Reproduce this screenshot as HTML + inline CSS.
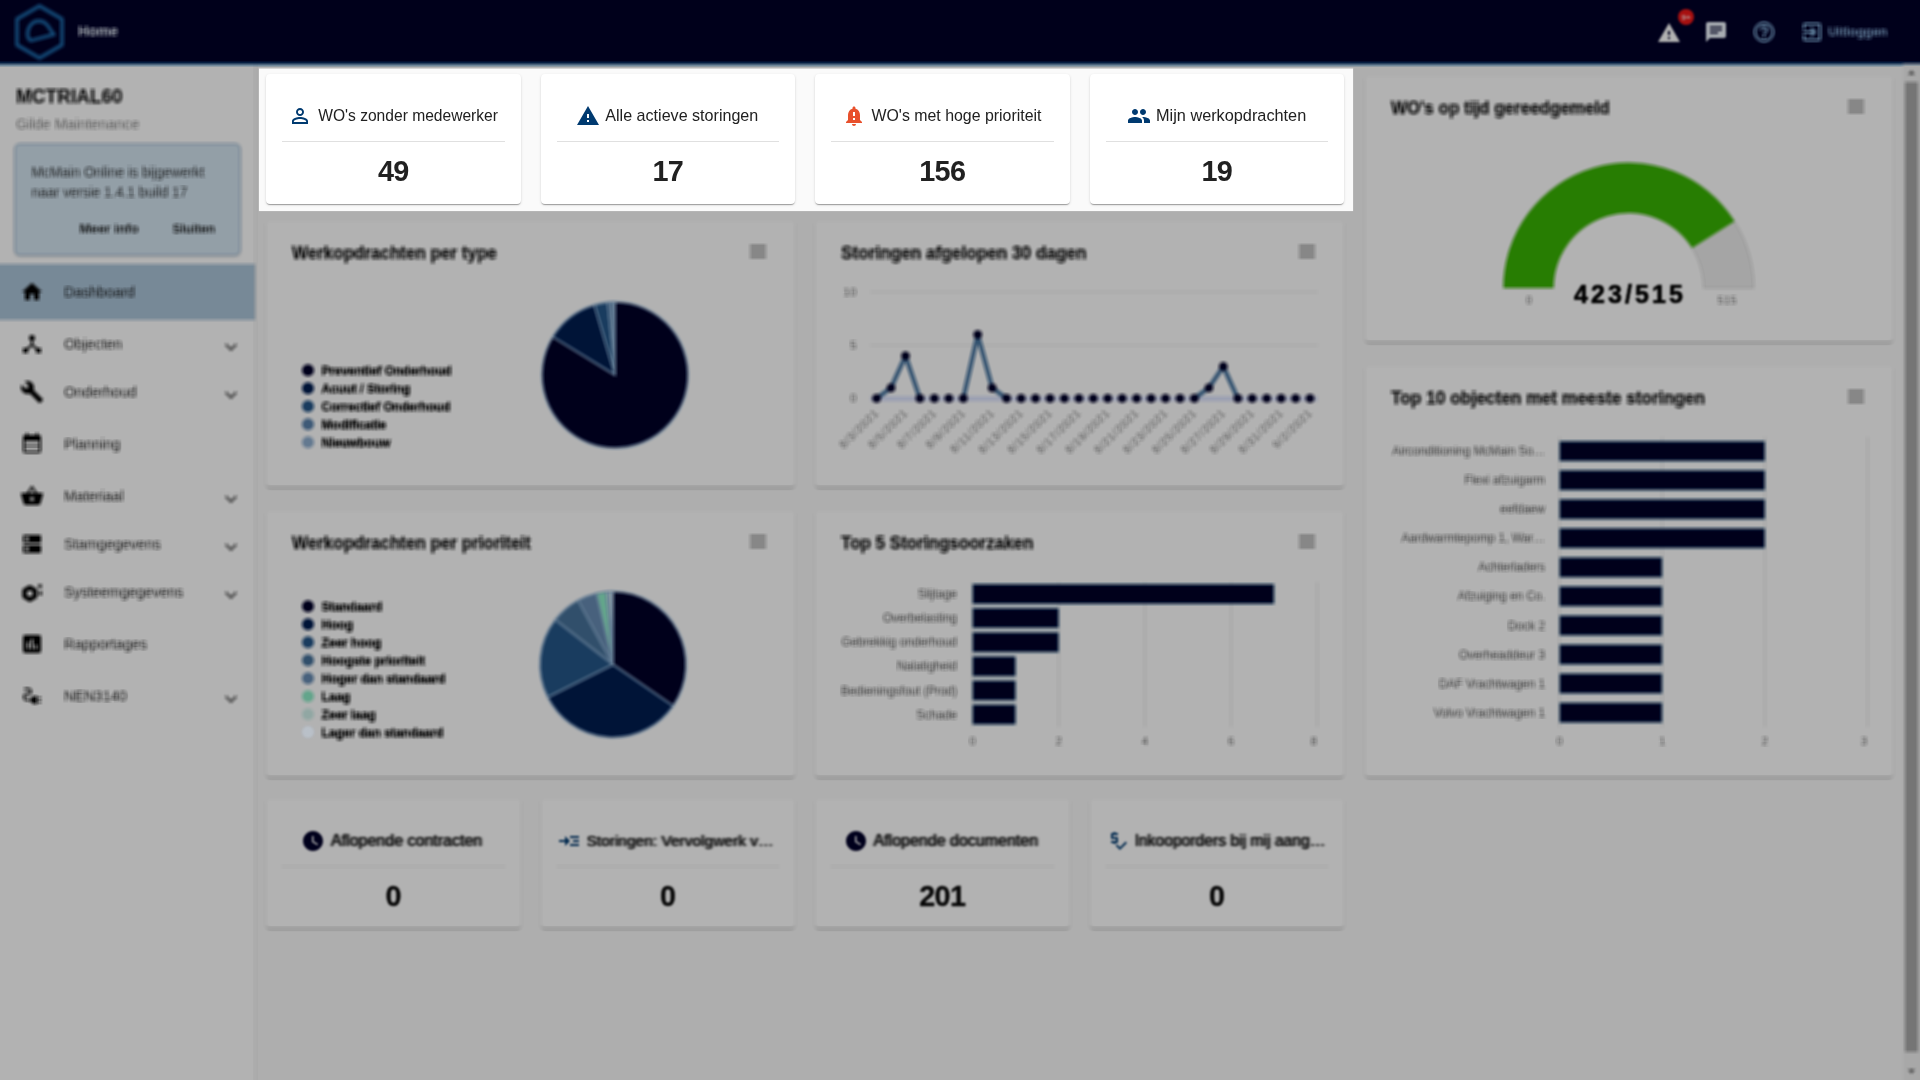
<!DOCTYPE html>
<html><head><meta charset="utf-8"><title>Home</title><style>
html,body{margin:0;padding:0}
body{width:1920px;height:1080px;overflow:hidden;position:relative;background:#afafaf;font-family:"Liberation Sans", sans-serif;}
.a{position:absolute}
.t{position:absolute;white-space:nowrap;font-family:"Liberation Sans", sans-serif}
#bl{position:absolute;left:-20px;top:-20px;width:1960px;height:1120px;filter:url(#bx);overflow:hidden}

#bl svg text{paint-order:stroke}
#pg{position:absolute;left:20px;top:20px;width:1920px;height:1080px}
#tx{position:absolute;left:0;top:0;width:1920px;height:1080px;filter:none}
.gh{text-shadow:-1.8px 0 0 rgba(0,0,0,.36),1.8px 0 0 rgba(0,0,0,.36),0 -1.1px 0 rgba(0,0,0,.2),0 1.100px 0 rgba(0,0,0,.2)}
#lb{position:absolute;left:0;top:0;width:1920px;height:1080px;filter:blur(.9px)}
#dim{position:absolute;left:0;top:0;width:1920px;height:1080px;background:rgba(0,0,0,.3)}
#hl{position:absolute;left:259px;top:68px;width:1094px;height:143px;background:linear-gradient(to bottom,rgba(250,250,250,.5) 0,rgba(250,250,250,.5) 1px,#fafafa 1px);box-shadow:0 0 1px rgba(250,250,250,.6);will-change:transform}
.card{position:absolute;background:#fff;border-radius:4px;box-shadow:0 2px 1px -1px rgba(0,0,0,.2),0 1px 1px 0 rgba(0,0,0,.14),0 1px 3px 0 rgba(0,0,0,.12)}
.nt{position:absolute;left:64px;font-size:14.5px;line-height:20px;color:rgba(0,0,0,.87);white-space:nowrap}
svg{overflow:visible}
</style></head><body>
<svg width="0" height="0" style="position:absolute"><defs><filter id="bx" x="0" y="0" width="100%" height="100%" color-interpolation-filters="sRGB"><feConvolveMatrix order="5 1" kernelMatrix=".2 .2 .2 .2 .2" edgeMode="duplicate" preserveAlpha="true"/><feConvolveMatrix order="1 5" kernelMatrix=".2 .2 .2 .2 .2" edgeMode="duplicate" preserveAlpha="true"/></filter></defs></svg>
<div id="bl"><div id="pg">
<div class="a" style="left:-20px;top:-20px;width:1960px;height:1120px;background:#fafafa"></div>
<div class="a" style="left:-20px;top:60px;width:275px;height:1060px;background:#fff;border-right:1px solid rgba(0,0,0,.14)"></div>
<div class="a" style="left:14px;top:143px;width:223px;height:109px;background:#d3e4f0;border:2px solid #b4c9dc;border-radius:6px;box-shadow:0 1px 2px rgba(0,0,0,.15)"></div>
<div class="a" style="left:-20px;top:264px;width:275px;height:55.5px;background:#abc4d8"></div>
<svg class="a" style="left:20px;top:280.0px" width="24" height="24" viewBox="0 0 24 24"><path fill="#000" d="M10 20v-6h4v6h5v-8h3L12 3 2 12h3v8z" /></svg>
<svg class="a" style="left:20px;top:332.0px" width="24" height="24" viewBox="0 0 24 24"><path fill="#000" d="M17 16l-4-4V8.82C14.16 8.4 15 7.3 15 6c0-1.66-1.34-3-3-3S9 4.34 9 6c0 1.3.84 2.4 2 2.82V12l-4 4H3v5h5v-3.05l4-4.2 4 4.2V21h5v-5h-4z" /></svg>
<svg class="a" style="left:219px;top:334.8px" width="24" height="24" viewBox="0 0 24 24"><path fill="rgba(0,0,0,.72)" d="M16.59 8.59L12 13.17 7.41 8.59 6 10l6 6 6-6z" /></svg>
<svg class="a" style="left:20px;top:380.0px" width="24" height="24" viewBox="0 0 24 24"><path fill="#000" d="M22.7 19l-9.1-9.1c.9-2.3.4-5-1.5-6.9-2-2-5-2.4-7.4-1.3L9 6 6 9 1.6 4.7C.4 7.1.9 10.1 2.9 12.1c1.9 1.9 4.6 2.4 6.9 1.5l9.1 9.1c.4.4 1 .4 1.4 0l2.3-2.3c.5-.4.5-1.1.1-1.4z" /></svg>
<svg class="a" style="left:219px;top:382.8px" width="24" height="24" viewBox="0 0 24 24"><path fill="rgba(0,0,0,.72)" d="M16.59 8.59L12 13.17 7.41 8.59 6 10l6 6 6-6z" /></svg>
<svg class="a" style="left:20px;top:432.0px" width="24" height="24" viewBox="0 0 24 24"><path fill="#000" d="M19 3h-1V1h-2v2H8V1H6v2H5c-1.11 0-2 .9-2 2v14c0 1.1.89 2 2 2h14c1.1 0 2-.9 2-2V5c0-1.1-.9-2-2-2zm0 16H5V9h14v10zM5 13h14v1.5H5z" /></svg>
<svg class="a" style="left:20px;top:484.0px" width="24" height="24" viewBox="0 0 24 24"><path fill="#000" d="M17.21 9l-4.38-6.56c-.19-.28-.51-.42-.83-.42-.32 0-.64.14-.83.43L6.79 9H2c-.55 0-1 .45-1 1 0 .09.01.18.04.27l2.54 9.27c.23.84 1 1.46 1.92 1.46h13c.92 0 1.69-.62 1.93-1.46l2.54-9.27L23 10c0-.55-.45-1-1-1h-4.79zM9 9l3-4.4L15 9H9zm3 8c-1.1 0-2-.9-2-2s.9-2 2-2 2 .9 2 2-.9 2-2 2z" /></svg>
<svg class="a" style="left:219px;top:486.8px" width="24" height="24" viewBox="0 0 24 24"><path fill="rgba(0,0,0,.72)" d="M16.59 8.59L12 13.17 7.41 8.59 6 10l6 6 6-6z" /></svg>
<svg class="a" style="left:20px;top:532.0px" width="24" height="24" viewBox="0 0 24 24"><path fill="#000" d="M20 13H4c-.55 0-1 .45-1 1v6c0 .55.45 1 1 1h16c.55 0 1-.45 1-1v-6c0-.55-.45-1-1-1zM7 19c-1.1 0-2-.9-2-2s.9-2 2-2 2 .9 2 2-.9 2-2 2zM20 3H4c-.55 0-1 .45-1 1v6c0 .55.45 1 1 1h16c.55 0 1-.45 1-1V4c0-.55-.45-1-1-1zM7 9c-1.1 0-2-.9-2-2s.9-2 2-2 2 .9 2 2-.9 2-2 2z" /></svg>
<svg class="a" style="left:219px;top:534.8px" width="24" height="24" viewBox="0 0 24 24"><path fill="rgba(0,0,0,.72)" d="M16.59 8.59L12 13.17 7.41 8.59 6 10l6 6 6-6z" /></svg>
<svg class="a" style="left:20px;top:580.0px" width="24" height="24" viewBox="0 0 24 24"><path fill="none" stroke="#000" stroke-width="4.600" stroke-linejoin="round" d="M9.800 7.600l5.200 3v6l-5.200 3-5.200-3v-6z"/><rect x="18.300" y="4.500" width="3.400" height="3.400"/><rect x="19" y="11.500" width="3" height="3.600"/></svg>
<svg class="a" style="left:219px;top:582.8px" width="24" height="24" viewBox="0 0 24 24"><path fill="rgba(0,0,0,.72)" d="M16.59 8.59L12 13.17 7.41 8.59 6 10l6 6 6-6z" /></svg>
<svg class="a" style="left:20px;top:632.0px" width="24" height="24" viewBox="0 0 24 24"><path fill="#000" d="M19 3H5c-1.1 0-2 .9-2 2v14c0 1.1.9 2 2 2h14c1.1 0 2-.9 2-2V5c0-1.1-.9-2-2-2zM9 17H7v-7h2v7zm4 0h-2V7h2v10zm4 0h-2v-4h2v4z" /></svg>
<svg class="a" style="left:20px;top:684.0px" width="24" height="24" viewBox="0 0 24 24"><path fill="#000" d="M21 14c0-.55-.45-1-1-1h-2v2h2c.55 0 1-.45 1-1zM20 17h-2v2h2c.55 0 1-.45 1-1s-.45-1-1-1zM12 14h-2v4h2c0 1.1.9 2 2 2h3v-8h-3c-1.1 0-2 .9-2 2zM5 13c0-1.1.9-2 2-2h1.5c1.93 0 3.5-1.57 3.5-3.500S10.430 4 8.5 4H5c-.55 0-1 .45-1 1s.45 1 1 1h3.5c.83 0 1.5.67 1.5 1.5S9.33 9 8.5 9H7c-2.21 0-4 1.79-4 4s1.79 4 4 4h2v-2H7c-1.1 0-2-.9-2-2z" /></svg>
<svg class="a" style="left:219px;top:686.8px" width="24" height="24" viewBox="0 0 24 24"><path fill="rgba(0,0,0,.72)" d="M16.59 8.59L12 13.17 7.41 8.59 6 10l6 6 6-6z" /></svg>
<div class="a" style="left:-20px;top:-20px;width:1960px;height:82.600px;background:#000028;border-bottom:2px solid #1468ab"></div>
<svg class="a" style="left:0;top:0" width="80" height="64" viewBox="0 0 80 64"><g fill="none" stroke="#1a63a2" stroke-width="3.800" stroke-linejoin="round"><path d="M39.5 6L62 19v26L39.500 58 17 45V19z"/><path d="M31 40.500C25 39 26.500 21 39 21c8.500 0 10.500 9 15 13.500L31 40.500z"/></g></svg>
<svg class="a" style="left:1752px;top:20px" width="24" height="24" viewBox="0 0 24 24"><path fill="#9fd6ff" d="M11 18h2v-2h-2v2zm1-16C6.48 2 2 6.48 2 12s4.48 10 10 10 10-4.48 10-10S17.52 2 12 2zm0 18c-4.41 0-8-3.59-8-8s3.59-8 8-8 8 3.59 8 8-3.59 8-8 8zm0-14c-2.21 0-4 1.79-4 4h2c0-1.1.9-2 2-2s2 .9 2 2c0 2-3 1.75-3 5h2c0-2.25 3-2.5 3-5 0-2.21-1.79-4-4-4z" /></svg>
<svg class="a" style="left:1800px;top:20px" width="24" height="24" viewBox="0 0 24 24"><path fill="#9fd6ff" d="M10.09 15.59L11.5 17l5-5-5-5-1.41 1.41L12.67 11H3v2h9.67l-2.58 2.59zM19 3H5c-1.11 0-2 .9-2 2v4h2V5h14v14H5v-4H3v4c0 1.1.89 2 2 2h14c1.1 0 2-.9 2-2V5c0-1.1-.9-2-2-2z" /></svg>
<div class="a" style="left:1903px;top:64px;width:37px;height:1036px;background:#f1f1f1"></div>
<div class="a" style="left:1905px;top:82px;width:13px;height:970px;background:#a8a8a8"></div>
<svg class="a" style="left:1903px;top:64px" width="17" height="17" viewBox="0 0 17 17"><path d="M5 10.500l3.500-4 3.500 4z" fill="#505050"/></svg>
<svg class="a" style="left:1903px;top:1063px" width="17" height="17" viewBox="0 0 17 17"><path d="M5 6.500l3.500 4 3.500-4z" fill="#505050"/></svg>
<div class="card" style="left:266px;top:221px;width:529px;height:266px"></div><div class="a" style="left:750px;top:245px;width:16px;height:3px;background:#9a9a9a"></div><div class="a" style="left:750px;top:250px;width:16px;height:3px;background:#9a9a9a"></div><div class="a" style="left:750px;top:255px;width:16px;height:3px;background:#9a9a9a"></div>
<div class="card" style="left:815px;top:221px;width:529px;height:266px"></div><div class="a" style="left:1299px;top:245px;width:16px;height:3px;background:#9a9a9a"></div><div class="a" style="left:1299px;top:250px;width:16px;height:3px;background:#9a9a9a"></div><div class="a" style="left:1299px;top:255px;width:16px;height:3px;background:#9a9a9a"></div>
<div class="card" style="left:266px;top:511px;width:529px;height:266px"></div><div class="a" style="left:750px;top:535px;width:16px;height:3px;background:#9a9a9a"></div><div class="a" style="left:750px;top:540px;width:16px;height:3px;background:#9a9a9a"></div><div class="a" style="left:750px;top:545px;width:16px;height:3px;background:#9a9a9a"></div>
<div class="card" style="left:815px;top:511px;width:529px;height:266px"></div><div class="a" style="left:1299px;top:535px;width:16px;height:3px;background:#9a9a9a"></div><div class="a" style="left:1299px;top:540px;width:16px;height:3px;background:#9a9a9a"></div><div class="a" style="left:1299px;top:545px;width:16px;height:3px;background:#9a9a9a"></div>
<div class="card" style="left:1365px;top:76px;width:527.5px;height:266px"></div><div class="a" style="left:1847.5px;top:100px;width:16px;height:3px;background:#9a9a9a"></div><div class="a" style="left:1847.5px;top:105px;width:16px;height:3px;background:#9a9a9a"></div><div class="a" style="left:1847.5px;top:110px;width:16px;height:3px;background:#9a9a9a"></div>
<div class="card" style="left:1365px;top:366px;width:527.5px;height:411px"></div><div class="a" style="left:1847.5px;top:390px;width:16px;height:3px;background:#9a9a9a"></div><div class="a" style="left:1847.5px;top:395px;width:16px;height:3px;background:#9a9a9a"></div><div class="a" style="left:1847.5px;top:400px;width:16px;height:3px;background:#9a9a9a"></div>
<svg class="a" style="left:0;top:0;font-family:'Liberation Sans', sans-serif" width="1920" height="1080" viewBox="0 0 1920 1080"><path d="M615 375L615.00 302.00A73 73 0 1 1 552.76 336.86Z" fill="#000028" stroke="#8fb3d6" stroke-width="1.600" stroke-linejoin="round"/><path d="M615 375L552.76 336.86A73 73 0 0 1 594.51 304.93Z" fill="#001d50" stroke="#8fb3d6" stroke-width="1.600" stroke-linejoin="round"/><path d="M615 375L594.51 304.93A73 73 0 0 1 607.88 302.35Z" fill="#255688" stroke="#8fb3d6" stroke-width="1.600" stroke-linejoin="round"/><path d="M615 375L607.88 302.35A73 73 0 0 1 611.82 302.07Z" fill="#5981ab" stroke="#8fb3d6" stroke-width="1.600" stroke-linejoin="round"/><path d="M615 375L611.82 302.07A73 73 0 0 1 615.00 302.00Z" fill="#8faecf" stroke="#8fb3d6" stroke-width="1.600" stroke-linejoin="round"/><path d="M613 664.5L613.00 591.50A73 73 0 0 1 673.09 705.95Z" fill="#000028" stroke="#8fb3d6" stroke-width="1.600" stroke-linejoin="round"/><path d="M613 664.5L673.09 705.95A73 73 0 0 1 547.73 697.19Z" fill="#001d50" stroke="#8fb3d6" stroke-width="1.600" stroke-linejoin="round"/><path d="M613 664.5L547.73 697.19A73 73 0 0 1 555.32 619.76Z" fill="#255688" stroke="#8fb3d6" stroke-width="1.600" stroke-linejoin="round"/><path d="M613 664.5L555.32 619.76A73 73 0 0 1 578.06 600.41Z" fill="#47729a" stroke="#8fb3d6" stroke-width="1.600" stroke-linejoin="round"/><path d="M613 664.5L578.06 600.41A73 73 0 0 1 596.33 593.43Z" fill="#678cb3" stroke="#8fb3d6" stroke-width="1.600" stroke-linejoin="round"/><path d="M613 664.5L596.33 593.43A73 73 0 0 1 606.38 591.80Z" fill="#8fecc8" stroke="#8fb3d6" stroke-width="1.600" stroke-linejoin="round"/><path d="M613 664.5L606.38 591.80A73 73 0 0 1 609.82 591.57Z" fill="#d0f0ea" stroke="#8fb3d6" stroke-width="1.600" stroke-linejoin="round"/><path d="M613 664.5L609.82 591.57A73 73 0 0 1 613.00 591.50Z" fill="#f5f9ff" stroke="#8fb3d6" stroke-width="1.600" stroke-linejoin="round"/><circle cx="308" cy="370.2" r="6" fill="#000028"/><circle cx="308" cy="388.2" r="6" fill="#001d50"/><circle cx="308" cy="406.2" r="6" fill="#255688"/><circle cx="308" cy="424.2" r="6" fill="#5981ab"/><circle cx="308" cy="442.2" r="6" fill="#8faecf"/><circle cx="308" cy="606.3" r="6" fill="#000028"/><circle cx="308" cy="624.3" r="6" fill="#001d50"/><circle cx="308" cy="642.3" r="6" fill="#255688"/><circle cx="308" cy="660.3" r="6" fill="#47729a"/><circle cx="308" cy="678.3" r="6" fill="#678cb3"/><circle cx="308" cy="696.3" r="6" fill="#8fecc8"/><circle cx="308" cy="714.3" r="6" fill="#d0f0ea"/><circle cx="308" cy="732.3" r="6" fill="#f5f9ff"/><path d="M870.500 292.0H1317.500" stroke="#e4e4e4" stroke-width="1.100"/><path d="M870.500 345.2H1317.500" stroke="#e4e4e4" stroke-width="1.100"/><path d="M870.500 398.4H1317.500" stroke="#e4e4e4" stroke-width="1.100"/><path d="M870.500 398.7H1317.500" stroke="#dde4ff" stroke-width="5"/><path d="M876.6 398.4L891.0 387.8M891.0 387.8L905.5 355.8M905.5 355.8L919.9 398.4M963.3 398.4L977.7 334.6M977.7 334.6L992.2 387.8M992.2 387.8L1006.6 398.4M1194.4 398.4L1208.9 387.8M1208.9 387.8L1223.3 366.5M1223.3 366.5L1237.8 398.4" stroke="#47749f" stroke-width="4.400" fill="none" stroke-linecap="round"/><circle cx="876.6" cy="398.4" r="4.400" fill="#000028"/><circle cx="891.0" cy="387.8" r="4.400" fill="#000028"/><circle cx="905.5" cy="355.8" r="4.400" fill="#000028"/><circle cx="919.9" cy="398.4" r="4.400" fill="#000028"/><circle cx="934.4" cy="398.4" r="4.400" fill="#000028"/><circle cx="948.8" cy="398.4" r="4.400" fill="#000028"/><circle cx="963.3" cy="398.4" r="4.400" fill="#000028"/><circle cx="977.7" cy="334.6" r="4.400" fill="#000028"/><circle cx="992.2" cy="387.8" r="4.400" fill="#000028"/><circle cx="1006.6" cy="398.4" r="4.400" fill="#000028"/><circle cx="1021.1" cy="398.4" r="4.400" fill="#000028"/><circle cx="1035.5" cy="398.4" r="4.400" fill="#000028"/><circle cx="1050.0" cy="398.4" r="4.400" fill="#000028"/><circle cx="1064.4" cy="398.4" r="4.400" fill="#000028"/><circle cx="1078.9" cy="398.4" r="4.400" fill="#000028"/><circle cx="1093.3" cy="398.4" r="4.400" fill="#000028"/><circle cx="1107.7" cy="398.4" r="4.400" fill="#000028"/><circle cx="1122.2" cy="398.4" r="4.400" fill="#000028"/><circle cx="1136.6" cy="398.4" r="4.400" fill="#000028"/><circle cx="1151.1" cy="398.4" r="4.400" fill="#000028"/><circle cx="1165.5" cy="398.4" r="4.400" fill="#000028"/><circle cx="1180.0" cy="398.4" r="4.400" fill="#000028"/><circle cx="1194.4" cy="398.4" r="4.400" fill="#000028"/><circle cx="1208.9" cy="387.8" r="4.400" fill="#000028"/><circle cx="1223.3" cy="366.5" r="4.400" fill="#000028"/><circle cx="1237.8" cy="398.4" r="4.400" fill="#000028"/><circle cx="1252.2" cy="398.4" r="4.400" fill="#000028"/><circle cx="1266.7" cy="398.4" r="4.400" fill="#000028"/><circle cx="1281.1" cy="398.4" r="4.400" fill="#000028"/><circle cx="1295.6" cy="398.4" r="4.400" fill="#000028"/><circle cx="1310.0" cy="398.4" r="4.400" fill="#000028"/><path d="M972.5 582V727" stroke="#e2e2e2" stroke-width="1.200"/><path d="M1058.7 582V727" stroke="#e2e2e2" stroke-width="1.200"/><path d="M1144.9 582V727" stroke="#e2e2e2" stroke-width="1.200"/><path d="M1231.1 582V727" stroke="#e2e2e2" stroke-width="1.200"/><path d="M1317.3 582V727" stroke="#e2e2e2" stroke-width="1.200"/><rect x="973.0" y="584.5" width="300.7" height="19" fill="#000028" stroke="#0b4a7d" stroke-width="1"/><rect x="973.0" y="608.6" width="85.2" height="19" fill="#000028" stroke="#0b4a7d" stroke-width="1"/><rect x="973.0" y="632.8" width="85.2" height="19" fill="#000028" stroke="#0b4a7d" stroke-width="1"/><rect x="973.0" y="656.9" width="42.1" height="19" fill="#000028" stroke="#0b4a7d" stroke-width="1"/><rect x="973.0" y="681.0" width="42.1" height="19" fill="#000028" stroke="#0b4a7d" stroke-width="1"/><rect x="973.0" y="705.0" width="42.1" height="19" fill="#000028" stroke="#0b4a7d" stroke-width="1"/><path d="M1559.5 437V727" stroke="#e2e2e2" stroke-width="1.200"/><path d="M1662.2 437V727" stroke="#e2e2e2" stroke-width="1.200"/><path d="M1764.9 437V727" stroke="#e2e2e2" stroke-width="1.200"/><path d="M1867.6 437V727" stroke="#e2e2e2" stroke-width="1.200"/><rect x="1560.0" y="441.7" width="204.4" height="19" fill="#000028" stroke="#0b4a7d" stroke-width="1"/><rect x="1560.0" y="470.8" width="204.4" height="19" fill="#000028" stroke="#0b4a7d" stroke-width="1"/><rect x="1560.0" y="499.8" width="204.4" height="19" fill="#000028" stroke="#0b4a7d" stroke-width="1"/><rect x="1560.0" y="528.8" width="204.4" height="19" fill="#000028" stroke="#0b4a7d" stroke-width="1"/><rect x="1560.0" y="557.9" width="101.7" height="19" fill="#000028" stroke="#0b4a7d" stroke-width="1"/><rect x="1560.0" y="586.9" width="101.7" height="19" fill="#000028" stroke="#0b4a7d" stroke-width="1"/><rect x="1560.0" y="616.0" width="101.7" height="19" fill="#000028" stroke="#0b4a7d" stroke-width="1"/><rect x="1560.0" y="645.0" width="101.7" height="19" fill="#000028" stroke="#0b4a7d" stroke-width="1"/><rect x="1560.0" y="674.0" width="101.7" height="19" fill="#000028" stroke="#0b4a7d" stroke-width="1"/><rect x="1560.0" y="703.1" width="101.7" height="19" fill="#000028" stroke="#0b4a7d" stroke-width="1"/><path d="M1503.40 288.00A125.2 125.2 0 0 1 1753.80 288.00L1703.60 288.00A75 75 0 0 0 1553.60 288.00Z" fill="#ececec" stroke="#d4d4d4" stroke-width="1"/><path d="M1503.40 288.00A125.2 125.2 0 0 1 1734.60 221.37L1692.10 248.08A75 75 0 0 0 1553.60 288.00Z" fill="#39b403"/></svg>
<div class="card" style="left:266px;top:799px;width:254.5px;height:129px"><div class="a" style="left:16px;top:67px;width:222.5px;height:1px;background:rgba(0,0,0,.12)"></div></div>
<div class="card" style="left:540.5px;top:799px;width:254.5px;height:129px"><div class="a" style="left:16px;top:67px;width:222.5px;height:1px;background:rgba(0,0,0,.12)"></div></div>
<div class="card" style="left:815px;top:799px;width:254.5px;height:129px"><div class="a" style="left:16px;top:67px;width:222.5px;height:1px;background:rgba(0,0,0,.12)"></div></div>
<div class="card" style="left:1089.5px;top:799px;width:254.5px;height:129px"><div class="a" style="left:16px;top:67px;width:222.5px;height:1px;background:rgba(0,0,0,.12)"></div></div>
<div id="tx"><div class="t" style="left:16px;top:83.01px;font-size:19.6px;line-height:27px;font-weight:700;color:rgba(0,0,0,.9);--sh:rgba(0,0,0,0.405);--sv:rgba(0,0,0,0.252);transform-origin:0 50%;transform:scaleX(.97);-webkit-text-stroke:.25px rgba(0,0,0,.9);">MCTRIAL60</div><div class="t" style="left:16px;top:113.57px;font-size:14.8px;line-height:21px;font-weight:400;color:rgba(0,0,0,.5);--sh:rgba(0,0,0,0.225);--sv:rgba(0,0,0,0.140);">Gilde Maintenance</div><div class="t" style="left:31.5px;top:162.68px;font-size:13.9px;line-height:19px;font-weight:400;color:rgba(0,0,0,.8);--sh:rgba(0,0,0,0.360);--sv:rgba(0,0,0,0.224);">McMain Online is bijgewerkt</div><div class="t" style="left:31.5px;top:183.18px;font-size:13.9px;line-height:19px;font-weight:400;color:rgba(0,0,0,.8);--sh:rgba(0,0,0,0.360);--sv:rgba(0,0,0,0.224);">naar versie 1.4.1 build 17</div><div class="t" style="left:79.5px;top:219.09px;font-size:13.3px;line-height:19px;font-weight:700;color:rgba(0,0,0,.87);--sh:rgba(0,0,0,0.392);--sv:rgba(0,0,0,0.244);">Meer info</div><div class="t" style="left:172.5px;top:219.76px;font-size:12.8px;line-height:18px;font-weight:700;color:rgba(0,0,0,.87);--sh:rgba(0,0,0,0.392);--sv:rgba(0,0,0,0.244);">Sluiten</div><div class="nt" style="top:282.0px">Dashboard</div><div class="nt" style="top:334.0px">Objecten</div><div class="nt" style="top:382.0px">Onderhoud</div><div class="nt" style="top:434.0px">Planning</div><div class="nt" style="top:486.0px">Materiaal</div><div class="nt" style="top:534.0px">Stamgegevens</div><div class="nt" style="top:582.0px">Systeemgegevens</div><div class="nt" style="top:634.0px">Rapportages</div><div class="nt" style="top:686.0px">NEN3140</div><div class="t" style="left:78px;top:21.01px;font-size:14.4px;line-height:20px;font-weight:700;color:#e4edf7;--sh:rgba(228,237,247,0.450);--sv:rgba(228,237,247,0.280);">Home</div><div class="t" style="left:1828px;top:23.03px;font-size:12.9px;line-height:18px;font-weight:700;color:#8db6de;--sh:rgba(141,182,222,0.450);--sv:rgba(141,182,222,0.280);">Uitloggen</div><div class="t" style="left:292.4px;top:241.40px;font-size:18.19px;line-height:25px;font-weight:700;color:rgba(0,0,0,.92);--sh:rgba(0,0,0,0.414);--sv:rgba(0,0,0,0.258);transform-origin:0 50%;transform:scaleX(.935);-webkit-text-stroke:.4px rgba(0,0,0,.92);">Werkopdrachten per type</div><div class="t" style="left:841.4px;top:239.82px;font-size:18.404px;line-height:26px;font-weight:700;color:rgba(0,0,0,.92);--sh:rgba(0,0,0,0.414);--sv:rgba(0,0,0,0.258);transform-origin:0 50%;transform:scaleX(.935);-webkit-text-stroke:.4px rgba(0,0,0,.92);">Storingen afgelopen 30 dagen</div><div class="t" style="left:292.4px;top:531.40px;font-size:18.19px;line-height:25px;font-weight:700;color:rgba(0,0,0,.92);--sh:rgba(0,0,0,0.414);--sv:rgba(0,0,0,0.258);transform-origin:0 50%;transform:scaleX(.935);-webkit-text-stroke:.4px rgba(0,0,0,.92);">Werkopdrachten per prioriteit</div><div class="t" style="left:841.4px;top:531.40px;font-size:18.19px;line-height:25px;font-weight:700;color:rgba(0,0,0,.92);--sh:rgba(0,0,0,0.414);--sv:rgba(0,0,0,0.258);transform-origin:0 50%;transform:scaleX(.935);-webkit-text-stroke:.4px rgba(0,0,0,.92);">Top 5 Storingsoorzaken</div><div class="t" style="left:1391.4px;top:96.40px;font-size:18.19px;line-height:25px;font-weight:700;color:rgba(0,0,0,.92);--sh:rgba(0,0,0,0.414);--sv:rgba(0,0,0,0.258);transform-origin:0 50%;transform:scaleX(.935);-webkit-text-stroke:.4px rgba(0,0,0,.92);">WO's op tijd gereedgemeld</div><div class="t" style="left:1391.4px;top:384.79px;font-size:18.511000000000003px;line-height:26px;font-weight:700;color:rgba(0,0,0,.92);--sh:rgba(0,0,0,0.414);--sv:rgba(0,0,0,0.258);transform-origin:0 50%;transform:scaleX(.935);-webkit-text-stroke:.4px rgba(0,0,0,.92);">Top 10 objecten met meeste storingen</div><div class="t" style="left:321.5px;top:363.00px;font-size:12.4px;line-height:17px;font-weight:700;color:#000;--sh:rgba(0,0,0,0.450);--sv:rgba(0,0,0,0.280);-webkit-text-stroke:.45px #000;">Preventief Onderhoud</div><div class="t" style="left:321.5px;top:381.00px;font-size:12.4px;line-height:17px;font-weight:700;color:#000;--sh:rgba(0,0,0,0.450);--sv:rgba(0,0,0,0.280);-webkit-text-stroke:.45px #000;">Acuut / Storing</div><div class="t" style="left:321.5px;top:399.00px;font-size:12.4px;line-height:17px;font-weight:700;color:#000;--sh:rgba(0,0,0,0.450);--sv:rgba(0,0,0,0.280);-webkit-text-stroke:.45px #000;">Correctief Onderhoud</div><div class="t" style="left:321.5px;top:417.00px;font-size:12.4px;line-height:17px;font-weight:700;color:#000;--sh:rgba(0,0,0,0.450);--sv:rgba(0,0,0,0.280);-webkit-text-stroke:.45px #000;">Modificatie</div><div class="t" style="left:321.5px;top:435.00px;font-size:12.4px;line-height:17px;font-weight:700;color:#000;--sh:rgba(0,0,0,0.450);--sv:rgba(0,0,0,0.280);-webkit-text-stroke:.45px #000;">Nieuwbouw</div><div class="t" style="left:321.5px;top:599.10px;font-size:12.4px;line-height:17px;font-weight:700;color:#000;--sh:rgba(0,0,0,0.450);--sv:rgba(0,0,0,0.280);-webkit-text-stroke:.45px #000;">Standaard</div><div class="t" style="left:321.5px;top:617.10px;font-size:12.4px;line-height:17px;font-weight:700;color:#000;--sh:rgba(0,0,0,0.450);--sv:rgba(0,0,0,0.280);-webkit-text-stroke:.45px #000;">Hoog</div><div class="t" style="left:321.5px;top:635.10px;font-size:12.4px;line-height:17px;font-weight:700;color:#000;--sh:rgba(0,0,0,0.450);--sv:rgba(0,0,0,0.280);-webkit-text-stroke:.45px #000;">Zeer hoog</div><div class="t" style="left:321.5px;top:653.10px;font-size:12.4px;line-height:17px;font-weight:700;color:#000;--sh:rgba(0,0,0,0.450);--sv:rgba(0,0,0,0.280);-webkit-text-stroke:.45px #000;">Hoogste prioriteit</div><div class="t" style="left:321.5px;top:671.10px;font-size:12.4px;line-height:17px;font-weight:700;color:#000;--sh:rgba(0,0,0,0.450);--sv:rgba(0,0,0,0.280);-webkit-text-stroke:.45px #000;">Hoger dan standaard</div><div class="t" style="left:321.5px;top:689.10px;font-size:12.4px;line-height:17px;font-weight:700;color:#000;--sh:rgba(0,0,0,0.450);--sv:rgba(0,0,0,0.280);-webkit-text-stroke:.45px #000;">Laag</div><div class="t" style="left:321.5px;top:707.10px;font-size:12.4px;line-height:17px;font-weight:700;color:#000;--sh:rgba(0,0,0,0.450);--sv:rgba(0,0,0,0.280);-webkit-text-stroke:.45px #000;">Zeer laag</div><div class="t" style="left:321.5px;top:725.10px;font-size:12.4px;line-height:17px;font-weight:700;color:#000;--sh:rgba(0,0,0,0.450);--sv:rgba(0,0,0,0.280);-webkit-text-stroke:.45px #000;">Lager dan standaard</div><div class="t" style="right:1063px;top:284.69px;font-size:11px;line-height:15px;font-weight:400;color:#666;letter-spacing:0.6px;--sh:rgba(102,102,102,0.450);--sv:rgba(102,102,102,0.280);">10</div><div class="t" style="right:1063px;top:337.89px;font-size:11px;line-height:15px;font-weight:400;color:#666;letter-spacing:0.6px;--sh:rgba(102,102,102,0.450);--sv:rgba(102,102,102,0.280);">5</div><div class="t" style="right:1063px;top:391.09px;font-size:11px;line-height:15px;font-weight:400;color:#666;letter-spacing:0.6px;--sh:rgba(102,102,102,0.450);--sv:rgba(102,102,102,0.280);">0</div><svg class="a" style="left:0;top:0;font-family:'Liberation Sans', sans-serif" width="1920" height="1080" viewBox="0 0 1920 1080"><text x="879.6" y="413.4" transform="rotate(-45 879.6 413.4)" text-anchor="end" font-size="11" letter-spacing="1" fill="#777">8/3/2021</text><text x="908.5" y="413.4" transform="rotate(-45 908.5 413.4)" text-anchor="end" font-size="11" letter-spacing="1" fill="#777">8/5/2021</text><text x="937.4" y="413.4" transform="rotate(-45 937.4 413.4)" text-anchor="end" font-size="11" letter-spacing="1" fill="#777">8/7/2021</text><text x="966.3" y="413.4" transform="rotate(-45 966.3 413.4)" text-anchor="end" font-size="11" letter-spacing="1" fill="#777">8/9/2021</text><text x="995.2" y="413.4" transform="rotate(-45 995.2 413.4)" text-anchor="end" font-size="11" letter-spacing="1" fill="#777">8/11/2021</text><text x="1024.1" y="413.4" transform="rotate(-45 1024.1 413.4)" text-anchor="end" font-size="11" letter-spacing="1" fill="#777">8/13/2021</text><text x="1053.0" y="413.4" transform="rotate(-45 1053.0 413.4)" text-anchor="end" font-size="11" letter-spacing="1" fill="#777">8/15/2021</text><text x="1081.9" y="413.4" transform="rotate(-45 1081.9 413.4)" text-anchor="end" font-size="11" letter-spacing="1" fill="#777">8/17/2021</text><text x="1110.7" y="413.4" transform="rotate(-45 1110.7 413.4)" text-anchor="end" font-size="11" letter-spacing="1" fill="#777">8/19/2021</text><text x="1139.6" y="413.4" transform="rotate(-45 1139.6 413.4)" text-anchor="end" font-size="11" letter-spacing="1" fill="#777">8/21/2021</text><text x="1168.5" y="413.4" transform="rotate(-45 1168.5 413.4)" text-anchor="end" font-size="11" letter-spacing="1" fill="#777">8/23/2021</text><text x="1197.4" y="413.4" transform="rotate(-45 1197.4 413.4)" text-anchor="end" font-size="11" letter-spacing="1" fill="#777">8/25/2021</text><text x="1226.3" y="413.4" transform="rotate(-45 1226.3 413.4)" text-anchor="end" font-size="11" letter-spacing="1" fill="#777">8/27/2021</text><text x="1255.2" y="413.4" transform="rotate(-45 1255.2 413.4)" text-anchor="end" font-size="11" letter-spacing="1" fill="#777">8/29/2021</text><text x="1284.1" y="413.4" transform="rotate(-45 1284.1 413.4)" text-anchor="end" font-size="11" letter-spacing="1" fill="#777">8/31/2021</text><text x="1313.0" y="413.4" transform="rotate(-45 1313.0 413.4)" text-anchor="end" font-size="11" letter-spacing="1" fill="#777">9/2/2021</text><text x="972.5" y="745" text-anchor="middle" font-size="11" fill="#666">0</text><text x="1058.7" y="745" text-anchor="middle" font-size="11" fill="#666">2</text><text x="1144.9" y="745" text-anchor="middle" font-size="11" fill="#666">4</text><text x="1231.1" y="745" text-anchor="middle" font-size="11" fill="#666">6</text><text x="1316.8" y="745" text-anchor="end" font-size="11" fill="#666">8</text><text x="957" y="598.0" text-anchor="end" font-size="12" fill="#505050">Slijtage</text><text x="957" y="622.1" text-anchor="end" font-size="12" fill="#505050">Overbelasting</text><text x="957" y="646.2" text-anchor="end" font-size="12" fill="#505050">Gebrekkig onderhoud</text><text x="957" y="670.4" text-anchor="end" font-size="12" fill="#505050">Nalatigheid</text><text x="957" y="694.5" text-anchor="end" font-size="12" fill="#505050">Bedieningsfout (Prod)</text><text x="957" y="718.5" text-anchor="end" font-size="12" fill="#505050">Schade</text><text x="1559.5" y="745" text-anchor="middle" font-size="11" fill="#666">0</text><text x="1662.2" y="745" text-anchor="middle" font-size="11" fill="#666">1</text><text x="1764.9" y="745" text-anchor="middle" font-size="11" fill="#666">2</text><text x="1867.1" y="745" text-anchor="end" font-size="11" fill="#666">3</text><text x="1545" y="455.2" text-anchor="end" font-size="11.9" fill="#505050">Airconditioning McMain So…</text><text x="1545" y="484.3" text-anchor="end" font-size="11.9" fill="#505050">Flexi afzuigarm</text><text x="1545" y="513.3" text-anchor="end" font-size="11.9" fill="#505050">eefdaew</text><text x="1545" y="542.3" text-anchor="end" font-size="11.9" fill="#505050">Aardwarmtepomp 1, War…</text><text x="1545" y="571.4" text-anchor="end" font-size="11.9" fill="#505050">Achterladers</text><text x="1545" y="600.4" text-anchor="end" font-size="11.9" fill="#505050">Afzuiging en Co.</text><text x="1545" y="629.5" text-anchor="end" font-size="11.9" fill="#505050">Dock 2</text><text x="1545" y="658.5" text-anchor="end" font-size="11.9" fill="#505050">Overheaddeur 3</text><text x="1545" y="687.5" text-anchor="end" font-size="11.9" fill="#505050">DAF Vrachtwagen 1</text><text x="1545" y="716.6" text-anchor="end" font-size="11.9" fill="#505050">Volvo Vrachtwagen 1</text><text x="1529" y="303.500" text-anchor="middle" font-size="10" fill="#666">0</text><text x="1727.500" y="303.500" text-anchor="middle" font-size="10" letter-spacing="1" fill="#666">515</text></svg></div>
</div></div>
<div id="lb"><svg class="a" style="left:1656.5px;top:20.5px" width="24" height="24" viewBox="0 0 24 24"><path fill="#fff" d="M1 21h22L12 2 1 21zm12-3h-2v-2h2v2zm0-4h-2v-4h2v4z" /></svg><div class="a" style="left:1678px;top:9px;width:16px;height:16px;border-radius:8px;background:#f01818"></div><div class="t" style="left:1186px;width:1000px;text-align:center;top:11.53px;font-size:8px;line-height:11px;font-weight:700;color:#ffd0d0;--sh:rgba(255,208,208,0.450);--sv:rgba(255,208,208,0.280);">9+</div><svg class="a" style="left:1704px;top:20px" width="24" height="24" viewBox="0 0 24 24"><path fill="#f0f6ff" d="M20 2H4c-1.1 0-1.99.9-1.99 2L2 22l4-4h14c1.1 0 2-.9 2-2V4c0-1.1-.9-2-2-2zM6 9.300h12v1.400H6V9.300zm8 4.400H6v-1.400h8v1.400zm4-6H6V6.300h12v1.400z" /></svg><svg class="a" style="left:0;top:0;font-family:'Liberation Sans', sans-serif" width="1920" height="1080" viewBox="0 0 1920 1080"><text x="1630.1" y="302.5" text-anchor="middle" font-size="25" font-weight="700" letter-spacing="3.100" fill="#000" stroke="#000" stroke-width=".7">423/515</text></svg><svg class="a" style="left:301.3px;top:829px" width="24" height="24" viewBox="0 0 24 24"><path fill="#000028" d="M12 2C6.5 2 2 6.5 2 12s4.5 10 10 10 10-4.5 10-10S17.5 2 12 2zm4.2 14.2L11 13V7h1.5v5.2l4.5 2.7-.8 1.300z" /></svg><div class="t gh" style="left:331px;top:830px;font-size:16px;line-height:22px;color:rgba(0,0,0,.8);">Aflopende contracten</div><div class="t" style="left:266px;width:254.5px;text-align:center;top:875.7px;font-size:28.8px;letter-spacing:-.7px;line-height:40px;font-weight:700;-webkit-text-stroke:.35px rgba(0,0,0,.96);color:rgba(0,0,0,.96)">0</div><svg class="a" style="left:556.5px;top:829px" width="24" height="24" viewBox="0 0 24 24"><path fill="#003a70" d="M13 7h9v2h-9zM13 15h9v2h-9zM16 11h6v2h-6zM13 12L8 7v4H2v2h6v4z" /></svg><div class="t gh" style="left:586.5px;top:830px;font-size:15.5px;line-height:22px;color:rgba(0,0,0,.8);width:192px;overflow:hidden;text-overflow:ellipsis;">Storingen: Vervolgwerk van storing</div><div class="t" style="left:540.5px;width:254.5px;text-align:center;top:875.7px;font-size:28.8px;letter-spacing:-.7px;line-height:40px;font-weight:700;-webkit-text-stroke:.35px rgba(0,0,0,.96);color:rgba(0,0,0,.96)">0</div><svg class="a" style="left:844px;top:829px" width="24" height="24" viewBox="0 0 24 24"><path fill="#000028" d="M12 2C6.5 2 2 6.5 2 12s4.5 10 10 10 10-4.5 10-10S17.5 2 12 2zm4.2 14.2L11 13V7h1.5v5.2l4.5 2.7-.8 1.300z" /></svg><div class="t gh" style="left:873.5px;top:830px;font-size:16px;line-height:22px;color:rgba(0,0,0,.8);">Aflopende documenten</div><div class="t" style="left:815px;width:254.5px;text-align:center;top:875.7px;font-size:28.8px;letter-spacing:-.7px;line-height:40px;font-weight:700;-webkit-text-stroke:.35px rgba(0,0,0,.96);color:rgba(0,0,0,.96)">201</div><svg class="a" style="left:1105.5px;top:829px" width="24" height="24" viewBox="0 0 24 24"><path fill="#003a70" d="M12 13V9c0-.55-.45-1-1-1H7V6h5V4H9.5V3h-2v1H6c-.55 0-1 .45-1 1v4c0 .55.45 1 1 1h4v2H5v2h2.500v1h2v-1H11c.55 0 1-.45 1-1zM19.59 12.52l-5.66 5.65-2.83-2.83-1.41 1.42L13.93 21l7.07-7.070z" /></svg><div class="t gh" style="left:1134.5px;top:830px;font-size:15.7px;line-height:22px;color:rgba(0,0,0,.8);width:194px;overflow:hidden;text-overflow:ellipsis;">Inkooporders bij mij aangevraagd</div><div class="t" style="left:1089.5px;width:254.5px;text-align:center;top:875.7px;font-size:28.8px;letter-spacing:-.7px;line-height:40px;font-weight:700;-webkit-text-stroke:.35px rgba(0,0,0,.96);color:rgba(0,0,0,.96)">0</div></div>
<div id="dim"></div>
<div class="a" style="left:302px;top:726.300px;width:12px;height:12px;border-radius:6px;background:rgb(185,192,200);filter:blur(1.300px)"></div>
<div id="hl">
<div class="card" style="left:7px;top:6px;width:254.5px;height:130px"><svg class="a" style="left:22px;top:30px" width="24" height="24" viewBox="0 0 24 24"><path fill="#003a70" d="M12 5.9c1.16 0 2.1.94 2.1 2.1s-.94 2.1-2.1 2.1S9.9 9.16 9.9 8s.94-2.1 2.1-2.1m0 9c2.97 0 6.1 1.46 6.1 2.1v1.1H5.9V17c0-.64 3.13-2.1 6.1-2.1M12 4C9.79 4 8 5.79 8 8s1.79 4 4 4 4-1.79 4-4-1.79-4-4-4zm0 9c-2.67 0-8 1.34-8 4v3h16v-3c0-2.66-5.33-4-8-4z" /></svg><div class="t" style="left:52.19999999999999px;top:31.3px;font-size:15.6px;line-height:22px;color:#212121;">WO's zonder medewerker</div><div class="a" style="left:16px;top:67px;width:222.5px;height:1px;background:#e0e0e0"></div><div class="t" style="left:0;width:254.5px;text-align:center;top:77.4px;font-size:28.8px;letter-spacing:-.7px;line-height:40px;font-weight:700;color:#212121">49</div></div>
<div class="card" style="left:281.5px;top:6px;width:254.5px;height:130px"><svg class="a" style="left:35.5px;top:30.25px" width="24" height="24" viewBox="0 0 24 24"><path fill="#003a70" d="M1 21h22L12 2 1 21zm12-3h-2v-2h2v2zm0-4h-2v-4h2v4z" /></svg><div class="t" style="left:64.79999999999995px;top:30.3px;font-size:16.1px;line-height:22px;color:#212121;">Alle actieve storingen</div><div class="a" style="left:16px;top:67px;width:222.5px;height:1px;background:#e0e0e0"></div><div class="t" style="left:0;width:254.5px;text-align:center;top:77.4px;font-size:28.8px;letter-spacing:-.7px;line-height:40px;font-weight:700;color:#212121">17</div></div>
<div class="card" style="left:556px;top:6px;width:254.5px;height:130px"><svg class="a" style="left:27px;top:29.75px" width="24" height="24" viewBox="0 0 24 24"><path fill="#e8502c" d="M18 16v-5c0-3.07-1.64-5.64-4.5-6.32V4c0-.83-.67-1.5-1.5-1.5s-1.5.67-1.5 1.5v.68C7.63 5.36 6 7.92 6 11v5l-2 2v1h16v-1l-2-2zm-5 0h-2v-2h2v2zm0-4h-2V8h2v4zm-1 10c1.1 0 2-.9 2-2h-4c0 1.1.89 2 2 2z" /></svg><div class="t" style="left:56.5px;top:31.3px;font-size:15.9px;line-height:22px;color:#212121;">WO's met hoge prioriteit</div><div class="a" style="left:16px;top:67px;width:222.5px;height:1px;background:#e0e0e0"></div><div class="t" style="left:0;width:254.5px;text-align:center;top:77.4px;font-size:28.8px;letter-spacing:-.7px;line-height:40px;font-weight:700;color:#212121">156</div></div>
<div class="card" style="left:830.5px;top:6px;width:254.5px;height:130px"><svg class="a" style="left:37.5px;top:29.75px" width="24" height="24" viewBox="0 0 24 24"><path fill="#003a70" d="M16 11c1.66 0 2.99-1.34 2.99-3S17.66 5 16 5c-1.66 0-3 1.34-3 3s1.34 3 3 3zm-8 0c1.66 0 2.99-1.34 2.99-3S9.66 5 8 5C6.34 5 5 6.34 5 8s1.34 3 3 3zm0 2c-2.33 0-7 1.17-7 3.5V19h14v-2.5c0-2.33-4.67-3.5-7-3.5zm8 0c-.29 0-.62.02-.97.05 1.16.84 1.97 1.97 1.97 3.45V19h6v-2.5c0-2.33-4.67-3.5-7-3.5z" /></svg><div class="t" style="left:66.5px;top:30.3px;font-size:16.3px;line-height:22px;color:#212121;">Mijn werkopdrachten</div><div class="a" style="left:16px;top:67px;width:222.5px;height:1px;background:#e0e0e0"></div><div class="t" style="left:0;width:254.5px;text-align:center;top:77.4px;font-size:28.8px;letter-spacing:-.7px;line-height:40px;font-weight:700;color:#212121">19</div></div>
</div>
</body></html>
